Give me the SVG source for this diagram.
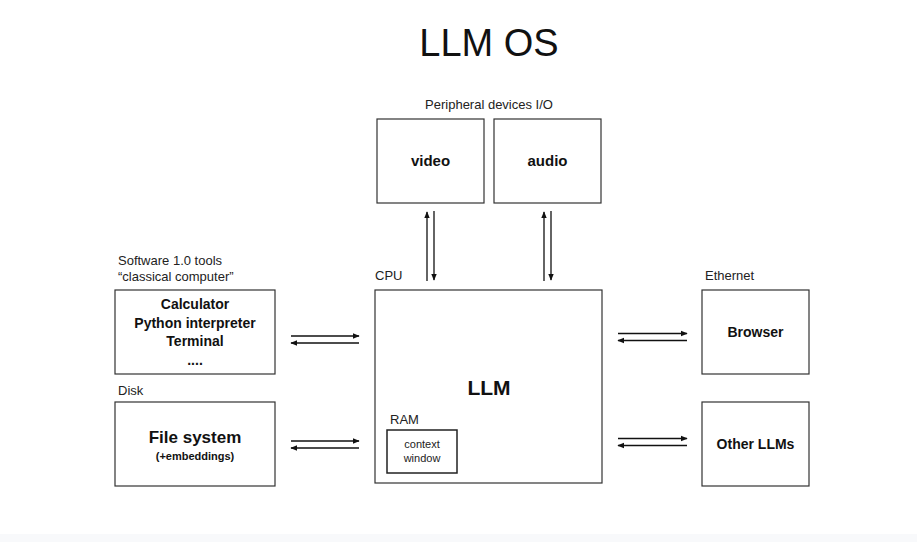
<svg xmlns="http://www.w3.org/2000/svg" width="917" height="542" viewBox="0 0 917 542">
<defs>
<marker id="ah" viewBox="0 0 10 10" refX="9" refY="5" markerWidth="7" markerHeight="7" markerUnits="userSpaceOnUse" orient="auto"><path d="M0,1 L10,5 L0,9 z" fill="#111"/></marker>
<style>
.box{fill:#fff;stroke:#333;stroke-width:1.2}
.lbl{font-family:"Liberation Sans",Arial,sans-serif;font-size:13px;fill:#222}
.bt{font-family:"Liberation Sans",Arial,sans-serif;font-weight:bold;fill:#111;text-anchor:middle}
.ar{stroke:#111;stroke-width:1.3;fill:none;marker-end:url(#ah)}
</style>
</defs>
<rect width="917" height="542" fill="#fff"/>
<rect x="0" y="534" width="917" height="8" fill="#f8f9fb"/>
<text x="489" y="56" text-anchor="middle" font-family="'Liberation Sans',Arial,sans-serif" font-size="38" fill="#111">LLM OS</text>
<text class="lbl" x="489" y="109" text-anchor="middle">Peripheral devices I/O</text>
<g id="video"><rect class="box" x="377" y="119" width="107" height="84"/><text class="bt" x="430.5" y="166" font-size="15">video</text></g>
<g id="audio"><rect class="box" x="494" y="119" width="107" height="84"/><text class="bt" x="547.5" y="166" font-size="15">audio</text></g>
<g id="tools"><text class="lbl" x="118" y="265">Software 1.0 tools</text><text class="lbl" x="118" y="281">“classical computer”</text>
<rect class="box" x="115" y="290" width="160" height="84"/>
<text class="bt" x="195" y="309" font-size="14">Calculator</text>
<text class="bt" x="195" y="328" font-size="14">Python interpreter</text>
<text class="bt" x="195" y="346" font-size="14">Terminal</text>
<text class="bt" x="195" y="365" font-size="14">....</text></g>
<g id="disk"><text class="lbl" x="118" y="395">Disk</text>
<rect class="box" x="115" y="402" width="160" height="84"/>
<text class="bt" x="195" y="443" font-size="17">File system</text>
<text class="bt" x="195" y="460" font-size="11">(+embeddings)</text></g>
<g id="cpu"><text class="lbl" x="375" y="280">CPU</text>
<rect class="box" x="375" y="290" width="227" height="193"/>
<text class="bt" x="489" y="395" font-size="21">LLM</text>
<text class="lbl" x="390" y="424">RAM</text>
<g id="ram"><rect x="387" y="430" width="70" height="43" fill="#fff" stroke="#222" stroke-width="1.5"/>
<text x="422" y="448" text-anchor="middle" font-family="'Liberation Sans',Arial,sans-serif" font-size="11" fill="#222">context</text>
<text x="422" y="462" text-anchor="middle" font-family="'Liberation Sans',Arial,sans-serif" font-size="11" fill="#222">window</text></g></g>
<g id="browser"><text class="lbl" x="705" y="280">Ethernet</text>
<rect class="box" x="702" y="290" width="107" height="84"/><text class="bt" x="755.5" y="337" font-size="14">Browser</text></g>
<g id="otherllms"><rect class="box" x="702" y="402" width="107" height="84"/><text class="bt" x="755.5" y="449" font-size="14">Other LLMs</text></g>
<g id="connectors">
<line class="ar" x1="427" y1="281" x2="427" y2="212"/>
<line class="ar" x1="434" y1="211" x2="434" y2="280"/>
<line class="ar" x1="544" y1="281" x2="544" y2="212"/>
<line class="ar" x1="551" y1="211" x2="551" y2="280"/>
<line class="ar" x1="291" y1="336" x2="359" y2="336"/>
<line class="ar" x1="359" y1="343" x2="291" y2="343"/>
<line class="ar" x1="291" y1="441" x2="359" y2="441"/>
<line class="ar" x1="359" y1="448" x2="291" y2="448"/>
<line class="ar" x1="618" y1="333.5" x2="687" y2="333.5"/>
<line class="ar" x1="687" y1="340.5" x2="618" y2="340.5"/>
<line class="ar" x1="618" y1="438.5" x2="687" y2="438.5"/>
<line class="ar" x1="687" y1="445.5" x2="618" y2="445.5"/>
</g>
</svg>
